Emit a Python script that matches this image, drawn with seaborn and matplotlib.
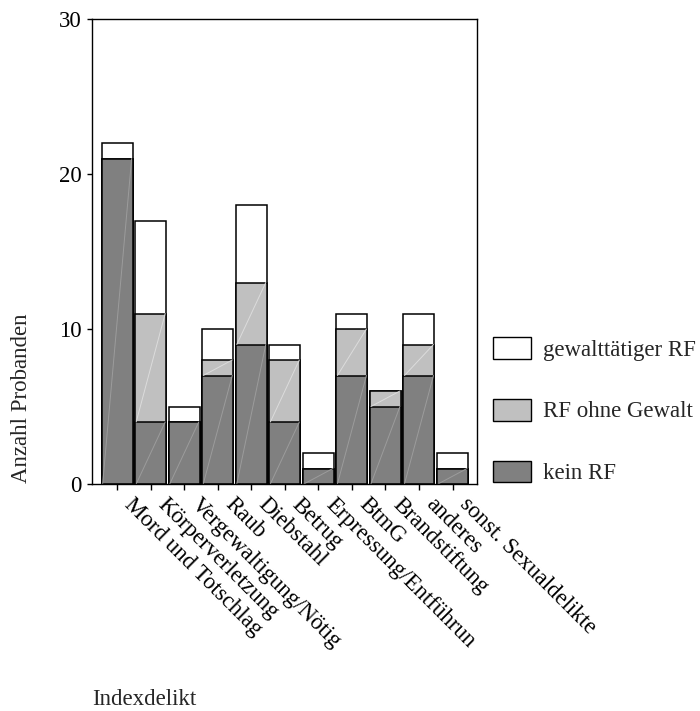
import matplotlib
matplotlib.use("Agg")
import matplotlib.pyplot as plt
import matplotlib.transforms as mtransforms
import seaborn as sns
import numpy as np
import pandas as pd
from matplotlib.patches import Patch

# Index offences and recidivism counts per offence
categories = [
    "Mord und Totschlag", "Körperverletzung", "Vergewaltigung/Nötig", "Raub",
    "Diebstahl", "Betrug", "Erpressung/Entführun", "BtmG", "Brandstiftung",
    "anderes", "sonst. Sexualdelikte",
]
kein_rf = [21, 4, 4, 7, 9, 4, 1, 7, 5, 7, 1]
rf_ohne_gewalt = [0, 7, 0, 1, 4, 4, 0, 3, 1, 2, 0]
gewalttaetiger_rf = [1, 6, 1, 2, 5, 1, 1, 1, 0, 2, 1]

series_labels = ["gewalttätiger RF", "RF ohne Gewalt", "kein RF"]
series_colors = ["#ffffff", "#c0c0c0", "#808080"]
diag_colors = {"#c0c0c0": "#dcdcdc", "#808080": "#9c9c9c"}

df = pd.DataFrame({
    "Indexdelikt": categories,
    "kein RF": kein_rf,
    "RF ohne Gewalt": rf_ohne_gewalt,
    "gewalttätiger RF": gewalttaetiger_rf,
})
df["lvl2"] = df["kein RF"] + df["RF ohne Gewalt"]
df["lvl3"] = df["lvl2"] + df["gewalttätiger RF"]

FS = 16.5
sns.set_style("ticks")
plt.rcParams["font.family"] = ["Liberation Serif", "DejaVu Serif"]
plt.rcParams["font.size"] = FS

fig = plt.figure(figsize=(7.0, 7.11), dpi=100)
ax = fig.add_axes([92 / 700, 1 - 484 / 711, 385 / 700, 465 / 711])

# stacked bars: draw cumulative heights from the top segment down
for col, color in zip(["lvl3", "lvl2", "kein RF"], series_colors):
    sns.barplot(data=df, x="Indexdelikt", y=col, color=color, width=0.925,
                edgecolor="black", linewidth=1.1, saturation=1, ax=ax,
                order=categories)

# faint diagonal inside each shaded segment
bars = list(ax.patches)
n = len(categories)
for layer, color in enumerate(series_colors):
    if color not in diag_colors:
        continue
    layer_bars = bars[layer * n:(layer + 1) * n]
    for i, p in enumerate(layer_bars):
        x0, w = p.get_x(), p.get_width()
        y1 = p.get_height()
        y0 = bars[(layer + 1) * n + i].get_height() if layer + 1 < len(series_colors) else 0
        if y1 - y0 <= 0:
            continue
        ax.plot([x0 + 0.03, x0 + w - 0.03], [y0, y1], color=diag_colors[color],
                lw=0.7, zorder=p.get_zorder() + 0.1)

ax.set_ylim(0, 30)
ax.set_xlim(-0.75, n - 1 + 0.73)
ax.set_yticks([0, 10, 20, 30])
for s in ax.spines.values():
    s.set_visible(True)
    s.set_linewidth(1.0)
    s.set_color("black")
ax.tick_params(axis="y", length=3.6, width=1.0, pad=4, labelsize=FS, colors="black")
ax.tick_params(axis="x", length=4.3, width=1.0, pad=0, labelsize=FS, colors="black")
ax.set_xticks(range(n))
ax.set_xticklabels(categories, rotation=-45, ha="left", va="center",
                   rotation_mode="anchor")
shift = mtransforms.ScaledTranslation(0.1, -0.115, fig.dpi_scale_trans)
for lbl in ax.get_xticklabels():
    lbl.set_transform(lbl.get_transform() + shift)

ax.set_ylabel("Anzahl Probanden", fontsize=FS)
ax.yaxis.set_label_coords(-0.156, 0.185)
ax.set_xlabel("Indexdelikt", fontsize=FS, ha="left", va="top")
ax.xaxis.set_label_coords(0.0, -0.44)

handles = [Patch(facecolor=c, edgecolor="black", linewidth=1.0) for c in series_colors]
fig.legend(handles, series_labels, loc="upper left",
           bbox_to_anchor=(493 / 700, 1 - 337 / 711), frameon=False,
           fontsize=FS, handlelength=1.66, handleheight=1.09,
           handletextpad=0.52, labelspacing=1.66, borderpad=0, borderaxespad=0)

fig.savefig("out.png", dpi=100)
